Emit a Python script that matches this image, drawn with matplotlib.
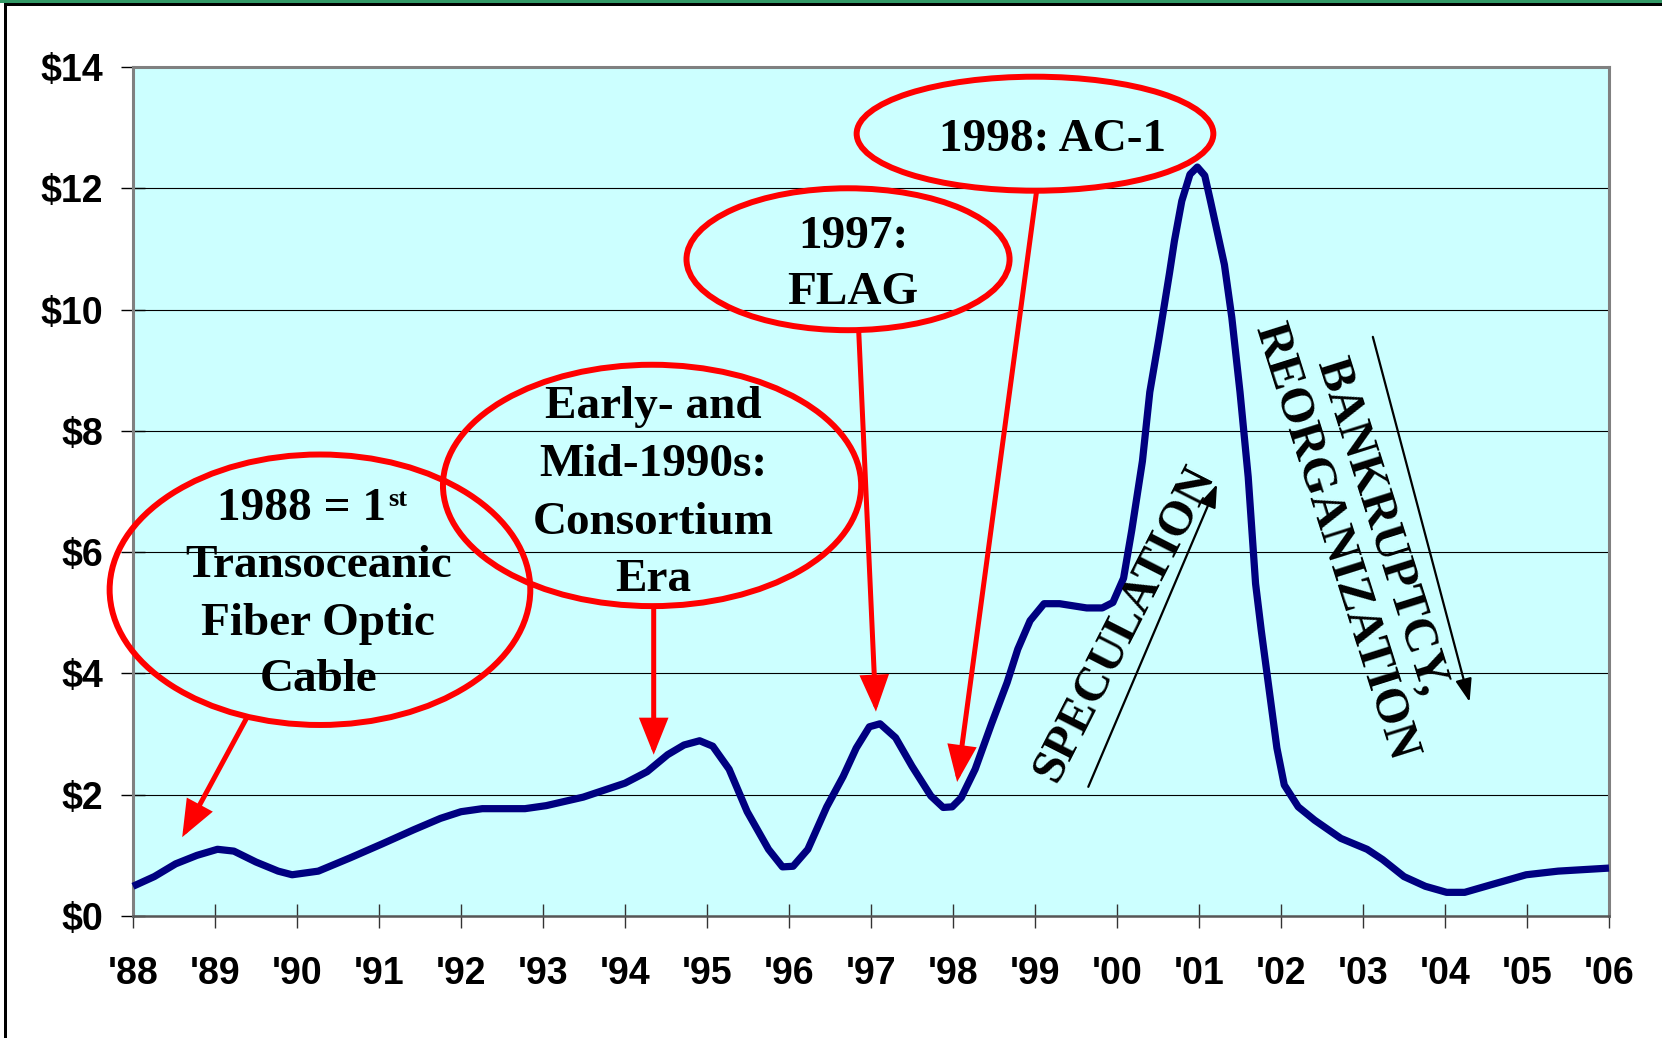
import matplotlib.pyplot as plt
from matplotlib.patches import Ellipse, FancyArrowPatch, Rectangle

# Price index, read per fraction of a year
years = [1988.00, 1988.26, 1988.52, 1988.78, 1989.03, 1989.23, 1989.50, 1989.77,
         1989.94, 1990.26, 1990.65, 1991.04, 1991.42, 1991.75, 1992.00, 1992.26,
         1992.78, 1993.04, 1993.49, 1994.00, 1994.27, 1994.52, 1994.72, 1994.91,
         1995.07, 1995.27, 1995.49, 1995.75, 1995.92, 1996.05, 1996.23, 1996.46,
         1996.66, 1996.82, 1996.98, 1997.11, 1997.30, 1997.50, 1997.73, 1997.88,
         1997.99, 1998.10, 1998.27, 1998.47, 1998.66, 1998.79, 1998.94, 1999.11,
         1999.30, 1999.63, 1999.82, 1999.95, 2000.08, 2000.18, 2000.31, 2000.40,
         2000.51, 2000.64, 2000.70, 2000.79, 2000.89, 2000.98, 2001.07, 2001.14,
         2001.31, 2001.40, 2001.50, 2001.60, 2001.69, 2001.76, 2001.89, 2001.95,
         2002.04, 2002.21, 2002.41, 2002.73, 2003.05, 2003.24, 2003.50, 2003.76,
         2004.02, 2004.24, 2004.60, 2004.99, 2005.38, 2006.00]
price = [0.49, 0.65, 0.86, 1.00, 1.10, 1.07, 0.89, 0.74,
         0.68, 0.74, 0.96, 1.19, 1.42, 1.61, 1.72, 1.77,
         1.77, 1.82, 1.96, 2.19, 2.38, 2.66, 2.82, 2.89,
         2.80, 2.42, 1.72, 1.10, 0.81, 0.82, 1.10, 1.80,
         2.30, 2.77, 3.12, 3.17, 2.94, 2.47, 1.98, 1.79,
         1.80, 1.95, 2.42, 3.17, 3.85, 4.40, 4.87, 5.15,
         5.15, 5.08, 5.08, 5.17, 5.57, 6.36, 7.50, 8.64,
         9.51, 10.60, 11.13, 11.79, 12.23, 12.35, 12.21, 11.79,
         10.74, 9.87, 8.64, 7.24, 5.48, 4.70, 3.38, 2.77,
         2.16, 1.80, 1.58, 1.28, 1.10, 0.93, 0.65, 0.49,
         0.39, 0.39, 0.53, 0.68, 0.74, 0.79]

year_ticks = list(range(1988, 2007))
year_labels = ["'%02d" % (y % 100) for y in year_ticks]
price_ticks = list(range(0, 15, 2))
price_labels = ['$%d' % p for p in price_ticks]

SERIF = 'Liberation Serif'
SANS = 'Liberation Sans'

fig = plt.figure(figsize=(16.62, 10.38), dpi=100)
fig.patch.set_facecolor('white')

# slide frame: green strip + black rule on top, black rule on the left
fig.add_artist(Rectangle((0, 1 - 3 / 1038), 1, 3 / 1038, transform=fig.transFigure,
                         color='#339966', lw=0))
fig.add_artist(Rectangle((4 / 1662, 1 - 6 / 1038), 1, 3 / 1038, transform=fig.transFigure,
                         color='black', lw=0))
fig.add_artist(Rectangle((4 / 1662, 0), 3 / 1662, 1 - 3 / 1038, transform=fig.transFigure,
                         color='black', lw=0))

ax = fig.add_axes([133 / 1662, 122 / 1038, 1476 / 1662, 849 / 1038])
ax.set_facecolor('#ccffff')
ax.set_xlim(1988, 2006)
ax.set_ylim(0, 14)

for y in price_ticks[1:-1]:
    ax.axhline(y, color='black', lw=0.8, zorder=1)

for side in ['top', 'right', 'left']:
    ax.spines[side].set_color('#808080')
    ax.spines[side].set_linewidth(2.2)
ax.spines['bottom'].set_color('#555555')
ax.spines['bottom'].set_linewidth(1.8)

ax.set_xticks(year_ticks)
ax.set_xticklabels(year_labels, fontfamily=SANS, fontweight='bold', fontsize=27)
ax.set_yticks(price_ticks)
ax.set_yticklabels(price_labels, fontfamily=SANS, fontweight='bold', fontsize=27)
ax.tick_params(axis='x', direction='inout', length=17, width=1, color='#333333', pad=20)
ax.tick_params(axis='y', direction='inout', length=17, width=1, color='black', pad=13)

ax.plot(years, price, color='#000080', lw=5.2, solid_joinstyle='round',
        solid_capstyle='butt', zorder=3, clip_on=False)

# red callout ellipses: centre x, centre y, width, height
callouts = [(1990.28, 5.38, 5.13, 4.46),
            (1994.33, 7.10, 5.10, 3.98),
            (1996.72, 10.83, 3.94, 2.34),
            (1999.00, 12.90, 4.35, 1.88)]
for cx, cy, w, h in callouts:
    ax.add_patch(Ellipse((cx, cy), w, h, fill=False, edgecolor='#ff0000', lw=4.3,
                         zorder=5, clip_on=False))

# red pointers from the callouts to the curve
pointers = [((1989.38, 3.25), (1988.60, 1.30)),
            ((1994.35, 5.08), (1994.35, 2.66)),
            ((1996.85, 9.65), (1997.06, 3.37)),
            ((1999.02, 11.96), (1998.05, 2.21))]
for start, end in pointers:
    ax.add_patch(FancyArrowPatch(start, end, arrowstyle='-|>,head_length=20,head_width=8',
                                 mutation_scale=1, lw=3.6, color='#ff0000',
                                 shrinkA=0, shrinkB=0, joinstyle='miter', zorder=5))

tkw = dict(fontfamily=SERIF, fontweight='bold', fontsize=34, ha='center',
           va='baseline', zorder=6)
ax.text(1991.09, 6.53, '1988 = 1', fontfamily=SERIF, fontweight='bold', fontsize=34,
        ha='right', va='baseline', zorder=6)
ax.text(1991.11, 6.76, 'st', fontfamily=SERIF, fontweight='bold', fontsize=19,
        ha='left', va='baseline', zorder=6)
for txt, y in [('Transoceanic', 5.59), ('Fiber Optic', 4.64), ('Cable', 3.71)]:
    ax.text(1990.26, y, txt, **tkw)
for txt, y in [('Early- and', 8.22), ('Mid-1990s:', 7.26), ('Consortium', 6.30), ('Era', 5.36)]:
    ax.text(1994.35, y, txt, **tkw)
for txt, y in [('1997:', 11.02), ('FLAG', 10.10)]:
    ax.text(1996.78, y, txt, **tkw)
ax.text(1999.22, 12.62, '1998: AC-1', **tkw)

# trend arrows and their rotated captions
ax.add_patch(FancyArrowPatch((1999.65, 2.13), (2001.22, 7.12),
                             arrowstyle='-|>,head_length=14,head_width=5', mutation_scale=1,
                             lw=1.6, color='black', shrinkA=0, shrinkB=0, zorder=4))
ax.add_patch(FancyArrowPatch((2003.12, 9.55), (2004.30, 3.53),
                             arrowstyle='-|>,head_length=14,head_width=5', mutation_scale=1,
                             lw=1.6, color='black', shrinkA=0, shrinkB=0, zorder=4))
ax.text(2000.09, 4.82, 'SPECULATION', fontfamily=SERIF, fontweight='bold', fontsize=35,
        rotation=63, rotation_mode='anchor', ha='center', va='center', zorder=4)
ax.text(2002.94, 6.30, 'BANKRUPTCY,\nREORGANIZATION', fontfamily=SERIF, fontweight='bold',
        fontsize=35, rotation=-72.5, rotation_mode='anchor', ha='center', va='center',
        multialignment='center', linespacing=1.15, zorder=4)

fig.savefig('out.png', dpi=100, facecolor=fig.get_facecolor())
